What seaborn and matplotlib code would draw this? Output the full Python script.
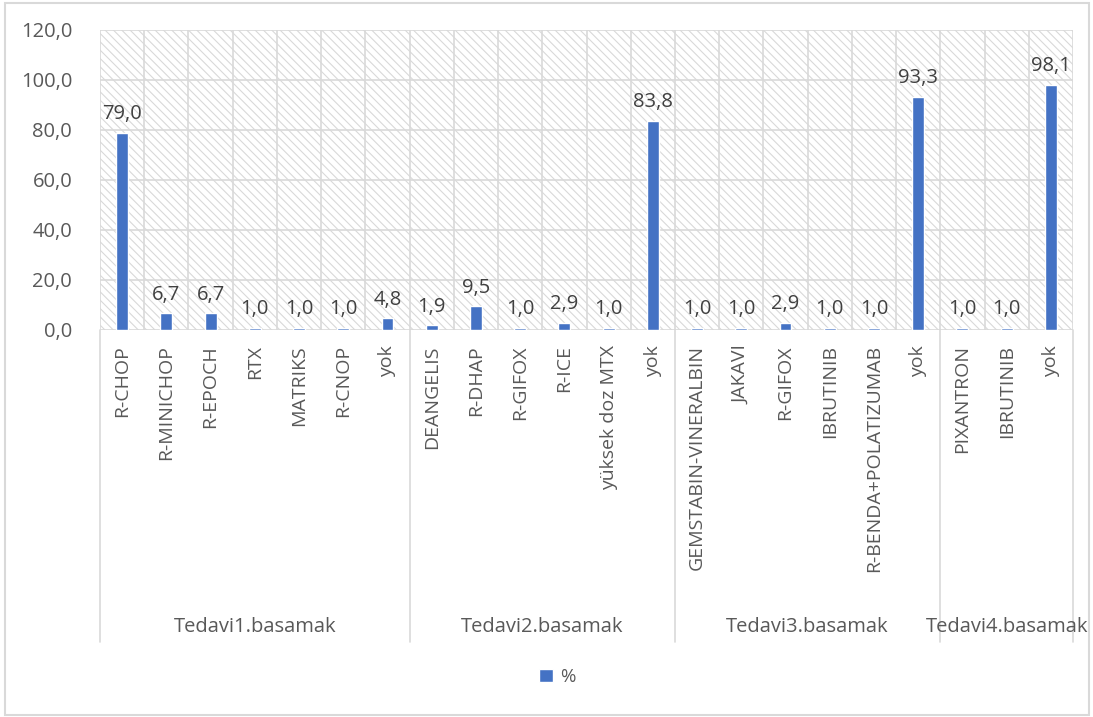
import matplotlib
matplotlib.use("Agg")
import matplotlib.pyplot as plt
from matplotlib.patches import Rectangle
from matplotlib.lines import Line2D
import seaborn as sns
import pandas as pd

# Treatment lines and the regimens given at each line
groups = ["Tedavi1.basamak", "Tedavi2.basamak", "Tedavi3.basamak", "Tedavi4.basamak"]
tedavi1_names = ["R-CHOP", "R-MINICHOP", "R-EPOCH", "RTX", "MATRIKS", "R-CNOP", "yok"]
tedavi1_values = [79.0, 6.7, 6.7, 1.0, 1.0, 1.0, 4.8]
tedavi2_names = ["DEANGELIS", "R-DHAP", "R-GIFOX", "R-ICE", "yüksek doz MTX", "yok"]
tedavi2_values = [1.9, 9.5, 1.0, 2.9, 1.0, 83.8]
tedavi3_names = ["GEMSTABIN-VINERALBIN", "JAKAVI", "R-GIFOX", "IBRUTINIB", "R-BENDA+POLATIZUMAB", "yok"]
tedavi3_values = [1.0, 1.0, 2.9, 1.0, 1.0, 93.3]
tedavi4_names = ["PIXANTRON", "IBRUTINIB", "yok"]
tedavi4_values = [1.0, 1.0, 98.1]
y_ticks = [0, 20, 40, 60, 80, 100, 120]

name_lists = [tedavi1_names, tedavi2_names, tedavi3_names, tedavi4_names]
value_lists = [tedavi1_values, tedavi2_values, tedavi3_values, tedavi4_values]

rows = []
for g, names, vals in zip(groups, name_lists, value_lists):
    for n, v in zip(names, vals):
        rows.append({"grup": g, "tedavi": n, "yuzde": v})
df = pd.DataFrame(rows)
df["sira"] = range(len(df))

sns.set_theme(style="white")
plt.rcParams["font.family"] = ["Open Sans", "DejaVu Sans"]
plt.rcParams["hatch.linewidth"] = 0.8
plt.rcParams["hatch.color"] = "#d4d4d4"

TXT = "#595959"
GRID = "#d9d9d9"
BLUE = "#4472C4"

fig = plt.figure(figsize=(10.93, 7.17), dpi=100)
W, H = 1093, 717
ax = fig.add_axes([100 / W, 1 - 330 / H, 973 / W, 300 / H])

# hatched plot-area background
ax.add_patch(Rectangle((0, 0), 1, 1, transform=ax.transAxes, facecolor="white",
                       edgecolor=GRID, hatch="\\\\\\\\", lw=0, zorder=0))

n = len(df)
ax.set_xlim(-0.5, n - 0.5)
ax.set_ylim(0, 120)

# gridlines: horizontal at y ticks, vertical at every category boundary
for yv in y_ticks:
    ax.axhline(yv, color=GRID, lw=1.2, zorder=1)
for i in range(n + 1):
    ax.axvline(i - 0.5, color=GRID, lw=1.2, zorder=1)

sns.barplot(data=df, x="sira", y="yuzde", color=BLUE, width=0.27, ax=ax,
            label="%", zorder=3, saturation=1)
ax.set_xlim(-0.5, n - 0.5)
ax.set_ylim(0, 120)

for s in ax.spines.values():
    s.set_visible(False)

ax.set_yticks(y_ticks)
ax.set_yticklabels([f"{v:.1f}".replace(".", ",") for v in y_ticks], fontsize=14.5, color=TXT)
ax.set_xticks(range(n))
ax.set_xticklabels(df["tedavi"], rotation=90, fontsize=14, color=TXT, va="top")
ax.tick_params(axis="both", length=0)
ax.tick_params(axis="y", pad=20)
ax.tick_params(axis="x", pad=11)
ax.set_xlabel("")
ax.set_ylabel("")

# value labels above bars
for i, v in enumerate(df["yuzde"]):
    ax.annotate(f"{v:.1f}".replace(".", ","), (i, v), xytext=(0, 6),
                textcoords="offset points", ha="center", va="bottom",
                fontsize=14.5, color="#404040")

# group dividers and group labels below the category labels
trans = ax.get_xaxis_transform()
bounds = [-0.5]
for names in name_lists:
    bounds.append(bounds[-1] + len(names))
for b in bounds:
    ax.add_line(Line2D([b, b], [0, -312 / 300], transform=trans, color=GRID,
                       lw=1.2, clip_on=False))
for g, a, b in zip(groups, bounds[:-1], bounds[1:]):
    ax.text((a + b) / 2, -297 / 300, g, transform=trans, ha="center", va="center",
            fontsize=14.5, color=TXT)

# legend
handle = Rectangle((0, 0), 1, 1, facecolor=BLUE)
fig.legend([handle], ["%"], loc="center", bbox_to_anchor=(557 / W, 1 - 677 / H),
           frameon=False, fontsize=13.5, handlelength=0.75, handleheight=0.7,
           handletextpad=0.35, labelcolor=TXT)
if ax.get_legend() is not None:
    ax.get_legend().remove()

# chart border
fig.add_artist(Rectangle((5 / W, 2 / H), 1084 / W, 712 / H, transform=fig.transFigure,
                         fill=False, edgecolor=GRID, lw=1.5))

fig.savefig("out.png", dpi=100)
